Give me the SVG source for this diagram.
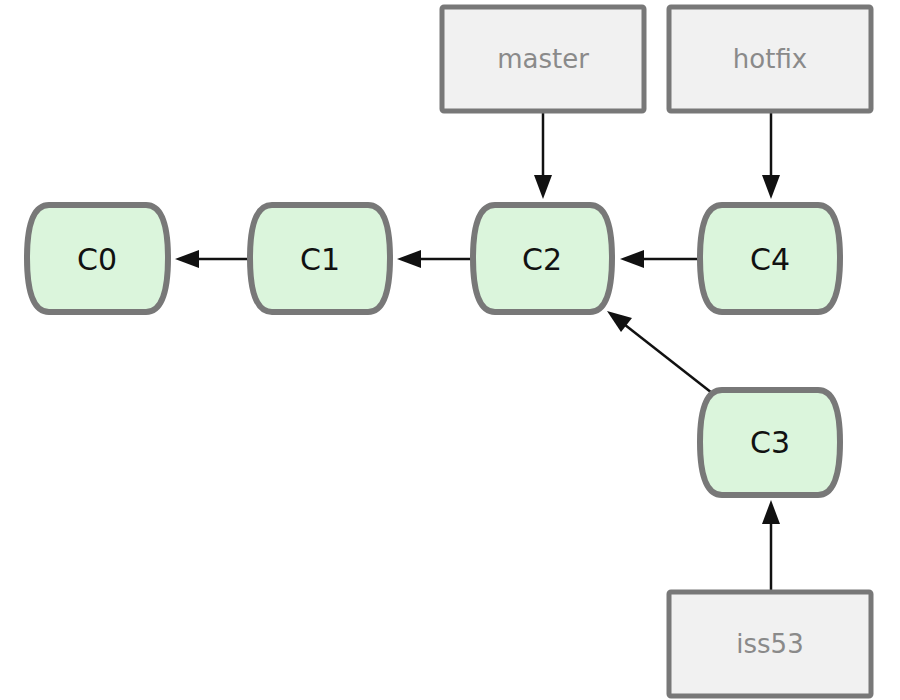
<svg xmlns="http://www.w3.org/2000/svg" width="900" height="700" viewBox="0 0 900 700">
<defs>
<style>
.commit{fill:#dbf5dc;stroke:#787878;stroke-width:6}
.branch{fill:#f1f1f1;stroke:#787878;stroke-width:5}
.ct{font-family:"DejaVu Sans",sans-serif;font-size:30px;fill:#111;text-anchor:middle;dominant-baseline:central}
.bt{font-family:"DejaVu Sans",sans-serif;font-size:26px;fill:#8a8a8a;text-anchor:middle;dominant-baseline:central}
.ln{stroke:#111;stroke-width:2.5}
</style>
</defs>
<g id="connectors" fill="#111">
<line class="ln" x1="250" y1="259" x2="190" y2="259"/>
<polygon points="175,259 199,250 199,268"/>
<line class="ln" x1="473" y1="259" x2="412" y2="259"/>
<polygon points="397,259 421,250 421,268"/>
<line class="ln" x1="700" y1="259" x2="635" y2="259"/>
<polygon points="620,259 644,250 644,268"/>
<line class="ln" x1="543" y1="112" x2="543" y2="185"/>
<polygon points="543,199 534,175 552,175"/>
<line class="ln" x1="771" y1="112" x2="771" y2="185"/>
<polygon points="771,199 762,175 780,175"/>
<line class="ln" x1="771" y1="591" x2="771" y2="515"/>
<polygon points="771,500 762,524 780,524"/>
<line class="ln" x1="712" y1="393" x2="620" y2="321"/>
<polygon points="607,311 632,318 621,332"/>
</g>
<g id="C0"><path class="commit" d="M49,205 H146 C162,205 168,225 168,258 C168,291 162,312 146,312 H49 C33,312 27,291 27,258 C27,225 33,205 49,205 Z"/><text class="ct" x="97" y="259">C0</text></g>
<g id="C1"><path class="commit" d="M272,205 H368 C384,205 390,225 390,258 C390,291 384,312 368,312 H272 C256,312 250,291 250,258 C250,225 256,205 272,205 Z"/><text class="ct" x="320" y="259">C1</text></g>
<g id="C2"><path class="commit" d="M495,205 H590 C606,205 612,225 612,258 C612,291 606,312 590,312 H495 C479,312 473,291 473,258 C473,225 479,205 495,205 Z"/><text class="ct" x="542" y="259">C2</text></g>
<g id="C4"><path class="commit" d="M722,205 H818 C834,205 840,225 840,258 C840,291 834,312 818,312 H722 C706,312 700,291 700,258 C700,225 706,205 722,205 Z"/><text class="ct" x="770" y="259">C4</text></g>
<g id="C3"><path class="commit" d="M722,390 H818 C834,390 840,410 840,442 C840,475 834,495 818,495 H722 C706,495 700,475 700,442 C700,410 706,390 722,390 Z"/><text class="ct" x="770" y="442">C3</text></g>
<g id="master"><rect class="branch" x="442" y="7" width="202" height="104" rx="2"/><text class="bt" x="543" y="59">master</text></g>
<g id="hotfix"><rect class="branch" x="669" y="7" width="202" height="104" rx="2"/><text class="bt" x="770" y="59">hotfix</text></g>
<g id="iss53"><rect class="branch" x="669" y="592" width="202" height="104" rx="2"/><text class="bt" x="770" y="644">iss53</text></g>
</svg>
